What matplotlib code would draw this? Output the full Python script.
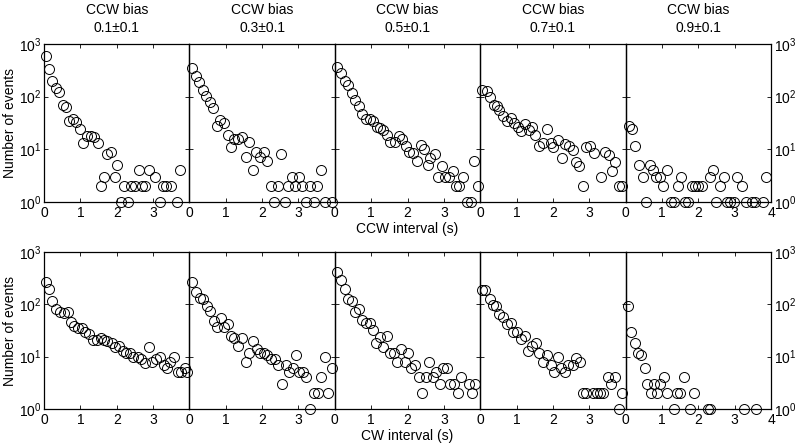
import numpy as np
import matplotlib
matplotlib.use('Agg')
import matplotlib.pyplot as plt

plt.rcParams['font.family'] = ['Liberation Sans', 'DejaVu Sans']
plt.rcParams['mathtext.fontset'] = 'custom'
plt.rcParams['mathtext.rm'] = 'Liberation Sans'

# panel titles (CCW bias)
bias = ['0.1', '0.3', '0.5', '0.7', '0.9']

# ---- top row: CCW intervals ----
ccw1_x = [0.05, 0.14, 0.23, 0.32, 0.42, 0.51, 0.61, 0.70, 0.81, 0.88, 0.99, 1.08, 1.19, 1.28, 1.37, 1.48,
          1.56, 1.66, 1.74, 1.85, 1.94, 2.02, 2.12, 2.21, 2.32, 2.39, 2.50, 2.60, 2.69, 2.79, 2.90, 3.06,
          3.18, 3.26, 3.37, 3.49, 3.66, 3.75]
ccw1_y = [585, 333, 200, 145, 122, 69, 63, 35, 37, 33, 24, 13, 18, 18, 17, 13,
          2, 3, 8, 9, 3, 5, 1, 2, 1, 2, 2, 4, 2, 2, 4, 3,
          1, 2, 2, 2, 1, 4]
ccw2_x = [0.07, 0.17, 0.27, 0.37, 0.46, 0.57, 0.66, 0.75, 0.84, 0.94, 1.05, 1.14, 1.23, 1.34, 1.46, 1.55,
          1.64, 1.75, 1.84, 1.95, 2.04, 2.13, 2.24, 2.33, 2.44, 2.53, 2.62, 2.72, 2.81, 2.91, 3.01, 3.11,
          3.21, 3.31, 3.42, 3.52, 3.63, 3.73, 3.91]
ccw2_y = [350, 250, 186, 134, 104, 78, 62, 28, 36, 32, 18.5, 11, 15.5, 16, 17, 7,
          14, 4, 9, 7, 9, 6, 2, 1, 2, 8, 1, 2, 3, 2, 3, 2,
          1, 2, 1, 2, 4, 1, 1]
ccw3_x = [0.05, 0.16, 0.27, 0.37, 0.46, 0.56, 0.67, 0.76, 0.86, 0.96, 1.05, 1.15, 1.24, 1.33, 1.44, 1.53,
          1.65, 1.76, 1.85, 1.95, 2.05, 2.15, 2.26, 2.36, 2.46, 2.56, 2.63, 2.75, 2.84, 2.95, 3.04, 3.13,
          3.25, 3.34, 3.43, 3.54, 3.63, 3.74, 3.84, 3.93]
ccw3_y = [365, 280, 195, 168, 116, 87, 66, 46, 38, 38, 35, 26, 25, 23, 19, 14,
          14, 18, 16, 11.7, 9, 8.4, 6, 12, 10, 5, 6.9, 8, 3, 4.9, 3, 3,
          3.9, 2, 2, 3, 1, 1, 5.9, 2]
ccw4_x = [0.06, 0.18, 0.27, 0.37, 0.46, 0.53, 0.62, 0.73, 0.85, 0.94, 1.03, 1.12, 1.23, 1.34, 1.43, 1.52,
          1.62, 1.74, 1.83, 1.94, 2.01, 2.13, 2.24, 2.34, 2.45, 2.54, 2.63, 2.72, 2.83, 2.92, 3.03, 3.12,
          3.33, 3.42, 3.54, 3.62, 3.72, 3.81, 3.91]
ccw4_y = [135, 126, 98, 70, 67, 56, 43, 35, 39, 32, 27, 22, 30, 23, 26, 19,
          11.7, 13, 24, 13, 11, 15, 6.9, 12.6, 11.7, 9.7, 5.8, 4.9, 2, 11, 11.7, 8.7,
          3, 9, 7.8, 3.9, 5.8, 2, 2]
ccw5_x = [0.09, 0.18, 0.27, 0.38, 0.47, 0.56, 0.66, 0.75, 0.85, 0.94, 1.03, 1.15, 1.25, 1.32, 1.43, 1.53,
          1.64, 1.73, 1.82, 1.91, 2.00, 2.09, 2.32, 2.41, 2.50, 2.59, 2.72, 2.79, 2.88, 2.97, 3.07, 3.21,
          3.30, 3.48, 3.57, 3.79, 3.87]
ccw5_y = [28, 24, 11.7, 5, 3, 1, 5, 4, 3, 3, 2, 4, 1, 1, 2, 3,
          1, 1, 2, 2, 2, 2, 3, 4, 1, 2, 3, 1, 1, 1, 3, 2,
          1, 1, 1, 1, 3]

# ---- bottom row: CW intervals ----
cw1_x = [0.05, 0.14, 0.23, 0.33, 0.44, 0.54, 0.65, 0.74, 0.83, 0.93, 1.05, 1.14, 1.23, 1.34, 1.46, 1.56,
         1.65, 1.74, 1.86, 1.95, 2.06, 2.16, 2.25, 2.36, 2.46, 2.59, 2.67, 2.78, 2.88, 2.97, 3.08, 3.18,
         3.29, 3.38, 3.47, 3.57, 3.69, 3.78, 3.87, 3.94]
cw1_y = [268, 195, 116, 83, 72, 69, 72, 46, 38, 36, 35, 30, 27, 21, 21, 23,
         21, 20, 18, 15, 16, 13, 12, 12, 10, 10, 9, 7.6, 15, 8, 9.2, 10,
         6.9, 6, 8, 10, 5, 5, 6, 5]
cw2_x = [0.07, 0.18, 0.29, 0.37, 0.48, 0.58, 0.67, 0.76, 0.87, 0.96, 1.07, 1.14, 1.23, 1.34, 1.46, 1.55,
         1.64, 1.75, 1.85, 1.94, 2.04, 2.13, 2.24, 2.35, 2.44, 2.54, 2.65, 2.74, 2.85, 2.94, 3.01, 3.12,
         3.22, 3.33, 3.42, 3.53, 3.63, 3.73, 3.82, 3.91]
cw2_y = [268, 173, 133, 125, 92, 74, 48, 37, 54, 37, 42, 25, 23, 16, 23, 8,
         12, 20, 14, 12, 12, 11, 9, 9.2, 6.9, 3, 7, 5, 6, 10.7, 5, 5,
         4, 1, 2, 2, 4, 10, 2, 6]
cw3_x = [0.07, 0.18, 0.27, 0.37, 0.46, 0.55, 0.67, 0.76, 0.85, 0.96, 1.05, 1.14, 1.24, 1.33, 1.44, 1.53,
         1.64, 1.72, 1.83, 1.92, 2.02, 2.11, 2.22, 2.31, 2.41, 2.51, 2.59, 2.70, 2.79, 2.90, 2.98, 3.09,
         3.16, 3.27, 3.38, 3.48, 3.68, 3.77, 3.86]
cw3_y = [415, 290, 195, 129, 116, 72, 80, 51, 44, 44, 33, 18, 24, 15, 25, 12,
         12, 8, 14, 8, 12, 6, 6.9, 4, 2, 4, 8, 4, 5, 3, 6, 6,
         3, 3, 2, 4, 3, 2, 3]
cw4_x = [0.05, 0.14, 0.26, 0.34, 0.43, 0.53, 0.62, 0.73, 0.84, 0.91, 1.02, 1.11, 1.23, 1.32, 1.42, 1.53,
         1.62, 1.73, 1.83, 1.94, 2.03, 2.13, 2.22, 2.33, 2.42, 2.54, 2.63, 2.74, 2.83, 2.92, 3.10, 3.20,
         3.29, 3.38, 3.52, 3.61, 3.72, 3.81, 3.91]
cw4_y = [190, 186, 129, 96, 92, 65, 58, 42, 44, 30, 29, 22, 25, 13, 16, 18,
         12, 8, 10.7, 7, 5, 9.7, 6, 5, 7, 7, 9.3, 8, 2, 2, 2, 2,
         2, 2, 4, 3, 4, 1, 2]
cw5_x = [0.06, 0.16, 0.25, 0.34, 0.43, 0.52, 0.59, 0.69, 0.78, 0.87, 0.96, 1.05, 1.14, 1.33, 1.42, 1.51,
         1.60, 1.78, 1.88, 2.26, 2.33, 3.25, 3.60]
cw5_y = [92, 29, 18, 12, 10.7, 6, 3, 2, 3, 2, 3, 4, 2, 1, 2, 2,
         4, 1, 2, 1, 1, 1, 1]

top_rows = [(ccw1_x, ccw1_y), (ccw2_x, ccw2_y), (ccw3_x, ccw3_y), (ccw4_x, ccw4_y), (ccw5_x, ccw5_y)]
bot_rows = [(cw1_x, cw1_y), (cw2_x, cw2_y), (cw3_x, cw3_y), (cw4_x, cw4_y), (cw5_x, cw5_y)]

W, H = 795, 443
fig = plt.figure(figsize=(W / 100, H / 100), dpi=100)

left, right = 44, 771
pw = (right - left) / 5.0
rows = [(44, 202, top_rows), (252, 409, bot_rows)]

for r, (ytop, ybot, data) in enumerate(rows):
    for i, (xs, ys) in enumerate(data):
        ax = fig.add_axes([(left + i * pw) / W, 1 - ybot / H, pw / W, (ybot - ytop) / H])
        ax.set_facecolor('none')
        ax.plot(xs, ys, 'o', mfc='none', mec='black', ms=7.2, mew=0.7, clip_on=False)
        ax.set_yscale('log')
        ax.set_ylim(1, 1000)
        ax.set_xlim(0, 4)
        ax.set_yticks([1, 10, 100, 1000])
        ax.yaxis.set_minor_locator(matplotlib.ticker.NullLocator())
        ax.set_xticks([0, 1, 2, 3, 4] if i == 4 else [0, 1, 2, 3])
        ax.tick_params(direction='in', top=True, right=True, length=3, width=0.6,
                       labelsize=10, pad=2,
                       labelleft=(i == 0), labelright=(i == 4))
        ax.tick_params(axis='x', pad=3)
        for s in ax.spines.values():
            s.set_linewidth(0.9)
        if i == 0:
            ax.set_ylabel('Number of events', fontsize=10, labelpad=1)
        if r == 0:
            ax.set_title('CCW bias\n' + bias[i] + '\u00b10.1', fontsize=10, pad=9, linespacing=1.3)
        if i == 2:
            ax.set_xlabel('CCW interval (s)' if r == 0 else 'CW interval (s)', fontsize=10, labelpad=1)

fig.savefig('out.png', dpi=100)
